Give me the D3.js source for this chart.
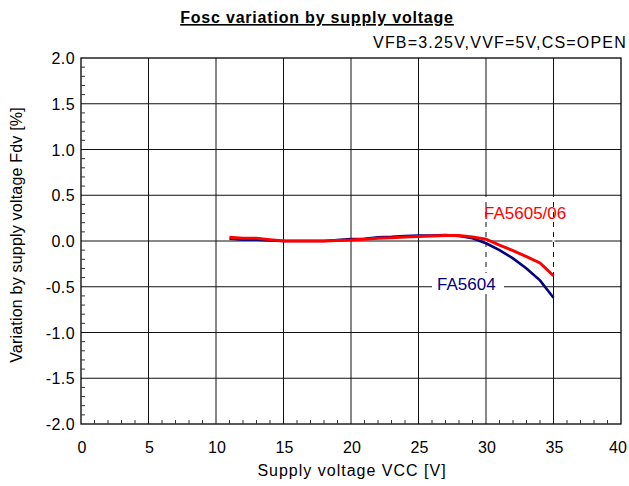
<!DOCTYPE html>
<html>
<head>
<meta charset="utf-8">
<script src="https://cdn.jsdelivr.net/npm/d3@7"></script>
<style>
    body { margin: 0; background: #fff; }
    svg { display: block; font-family: "Liberation Sans", Arial, sans-serif; }
</style>
</head>
<body>
<svg id="chart" width="629" height="486"></svg>
<script>
// supply voltage [V]
const VCC = [11, 12, 13, 14, 15, 16, 17, 18, 19, 20, 21, 22, 23, 24, 25, 26, 27, 28, 29, 30, 31, 32, 33, 34, 35];
// FA5604 variation [%]
const FA5604 = [0.025, 0.015, 0.015, 0.005, 0.0, 0.0, 0.0, 0.0, 0.01, 0.02, 0.025, 0.04, 0.045, 0.055, 0.06, 0.06, 0.065, 0.055, 0.03, -0.025, -0.1, -0.19, -0.3, -0.43, -0.62];
// FA5605/06 variation [%]
const FA5605 = [0.04, 0.03, 0.03, 0.015, 0.0, 0.0, 0.0, 0.0, 0.005, 0.01, 0.02, 0.03, 0.035, 0.045, 0.05, 0.055, 0.06, 0.06, 0.045, 0.02, -0.045, -0.105, -0.17, -0.24, -0.38];
const X_TICKS = [0, 5, 10, 15, 20, 25, 30, 35, 40];
const Y_TICKS = [2.0, 1.5, 1.0, 0.5, 0.0, -0.5, -1.0, -1.5, -2.0];

const SVG = d3.select("#chart");
const LEFT = 81, RIGHT = 621, TOP = 58, BOTTOM = 424;

const x = d3.scaleLinear().domain([0, 40]).range([LEFT, RIGHT]);
const y = d3.scaleLinear().domain([-2, 2]).range([BOTTOM, TOP]);

// title
SVG.append("text")
    .attr("x", 317).attr("y", 23)
    .attr("text-anchor", "middle")
    .style("font-size", "16px").style("font-weight", "bold")
    .style("letter-spacing", "0.8px")
    .style("text-decoration", "underline")
    .text("Fosc variation by supply voltage");

SVG.append("text")
    .attr("x", 627).attr("y", 48)
    .attr("text-anchor", "end")
    .style("font-size", "16px")
    .style("letter-spacing", "1.2px")
    .text("VFB=3.25V,VVF=5V,CS=OPEN");

const grid = SVG.append("g").attr("stroke", "#111").attr("stroke-width", 1);

// gridlines
grid.selectAll("line.v")
    .data(X_TICKS.slice(1, -1))
    .join("line")
    .attr("class", "v")
    .attr("x1", d => x(d)).attr("x2", d => x(d))
    .attr("y1", TOP).attr("y2", BOTTOM);

grid.selectAll("line.h")
    .data(Y_TICKS.slice(1, -1))
    .join("line")
    .attr("class", "h")
    .attr("x1", LEFT).attr("x2", RIGHT)
    .attr("y1", d => y(d)).attr("y2", d => y(d));

// broken gridline stretch under the labels
SVG.append("g").selectAll("line")
    .data([30, 35])
    .join("line")
    .attr("x1", d => x(d)).attr("x2", d => x(d))
    .attr("y1", y(0.48)).attr("y2", y(-0.34))
    .attr("stroke", "#fff").attr("stroke-width", 2)
    .attr("stroke-dasharray", "5,5");

// axis frame
SVG.append("rect")
    .attr("x", LEFT).attr("y", TOP)
    .attr("width", RIGHT - LEFT).attr("height", BOTTOM - TOP)
    .attr("fill", "none").attr("stroke", "#000").attr("stroke-width", 1.3);

// minor ticks (inside)
const minorX = d3.range(1, 40).filter(v => v % 5 !== 0);
SVG.append("g").selectAll("line")
    .data(minorX)
    .join("line")
    .attr("x1", d => x(d)).attr("x2", d => x(d))
    .attr("y1", BOTTOM).attr("y2", BOTTOM - 4)
    .attr("stroke", "#333");

const minorY = d3.range(-19, 20).map(v => v / 10).filter(v => Math.round(v * 10) % 5 !== 0);
SVG.append("g").selectAll("line")
    .data(minorY)
    .join("line")
    .attr("x1", LEFT).attr("x2", LEFT + 4)
    .attr("y1", d => y(d)).attr("y2", d => y(d))
    .attr("stroke", "#333");

// tick labels
SVG.append("g").selectAll("text")
    .data(X_TICKS)
    .join("text")
    .attr("x", d => d === 40 ? x(d) - 3 : x(d) + 1).attr("y", 453)
    .attr("text-anchor", "middle")
    .style("font-size", "16px")
    .text(d => d);

SVG.append("g").selectAll("text")
    .data(Y_TICKS)
    .join("text")
    .attr("x", 75).attr("y", d => y(d) + 6)
    .attr("text-anchor", "end")
    .style("font-size", "16px")
    .style("letter-spacing", "0.4px")
    .text(d => d.toFixed(1));

// axis titles
SVG.append("text")
    .attr("x", 352).attr("y", 476)
    .attr("text-anchor", "middle")
    .style("font-size", "16px")
    .style("letter-spacing", "1px")
    .text("Supply voltage VCC [V]");

SVG.append("text")
    .attr("transform", `translate(22, ${(TOP + BOTTOM) / 2 - 6}) rotate(-90)`)
    .attr("text-anchor", "middle")
    .style("font-size", "16px")
    .style("letter-spacing", "0.2px")
    .text("Variation by supply voltage Fdv [%]");

const line = d3.line()
    .x((d, i) => x(VCC[i]))
    .y(d => y(d));

SVG.append("path")
    .datum(FA5604)
    .attr("d", line)
    .attr("fill", "none")
    .attr("stroke", "#000080")
    .attr("stroke-width", 2.6);

SVG.append("path")
    .datum(FA5605)
    .attr("d", line)
    .attr("fill", "none")
    .attr("stroke", "#ff0000")
    .attr("stroke-width", 3);

// series labels
SVG.append("rect").attr("x", 432).attr("y", 273).attr("width", 72).attr("height", 21).attr("fill", "#fff");
SVG.append("text")
    .attr("x", 484).attr("y", 219)
    .attr("fill", "#ff0000")
    .style("font-size", "17px")
    .text("FA5605/06");
SVG.append("text")
    .attr("x", 437).attr("y", 290)
    .attr("fill", "#000080")
    .style("font-size", "17px")
    .text("FA5604");
</script>
</body>
</html>
